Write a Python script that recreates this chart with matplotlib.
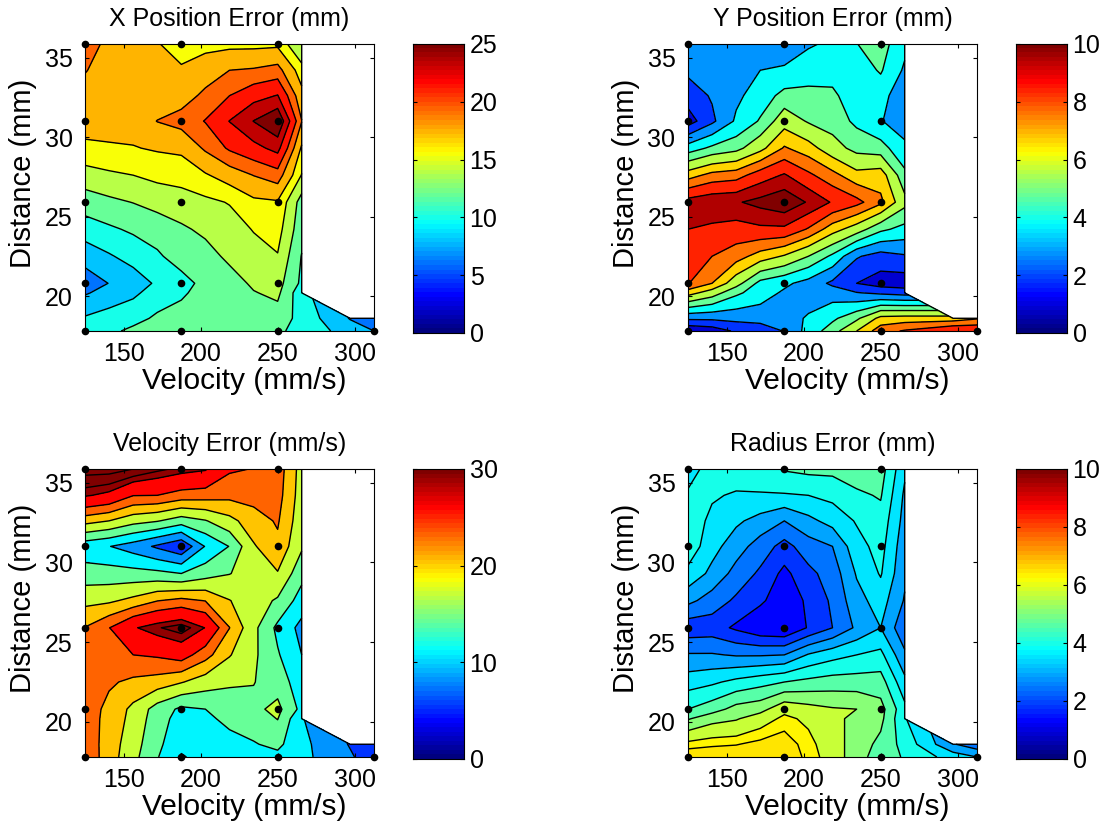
import matplotlib
matplotlib.use('Agg')
import matplotlib.pyplot as plt
from matplotlib.colors import LinearSegmentedColormap
import numpy as np

plt.rcParams['font.family'] = ['Liberation Sans', 'DejaVu Sans']

nan = float('nan')

# mesh the error surfaces were contoured on
velocity_cols = [125, 140.6, 156.25, 171.9, 187.5, 203.1, 218.75, 234.4, 250, 265.6, 296.9, 312.5]
distance_rows = [35.85, 34.2, 32.6, 31.0, 29.3, 27.6, 25.9, 24.2, 22.5, 20.8, 20.2, 18.6, 17.8]

# measured points
point_v = [125, 187, 250]
point_d = [35.85, 31.0, 25.9, 20.8, 17.8]

# each list is one velocity column, top row first
x_err = [
    [20.2, 19.4, 18.6, 17.9, 17.0, 14.8, 12.9, 10.9, 8.9, 7.0, 7.9, 10.2, 11.3],
    [18.8, 18.5, 18.2, 18.0, 17.1, 15.3, 13.4, 11.6, 9.8, 8.15, 8.8, 10.8, 11.5],
    [18.3, 18.2, 18.1, 18.1, 17.2, 15.6, 13.85, 12.2, 10.7, 9.0, 9.6, 11.3, 12.3],
    [17.4, 17.9, 18.1, 19.35, 17.5, 16.0, 14.6, 12.5, 11.7, 10.3, 10.9, 12.2, 12.7],
    [16.6, 17.5, 18.5, 20.0, 17.7, 16.2, 14.9, 13.5, 12.5, 11.4, 11.7, 12.4, 12.6],
    [16.7, 18.4, 19.7, 21.3, 19.6, 17.1, 15.2, 14.2, 13.1, 12.3, 12.4, 12.7, 12.6],
    [16.8, 19.3, 21.2, 23.45, 21.5, 18.2, 15.7, 14.8, 14.2, 13.0, 13.0, 12.9, 12.8],
    [16.8, 19.5, 22.6, 25.55, 22.7, 19.35, 16.9, 15.7, 14.9, 14.1, 13.7, 13.0, 12.6],
    [16.9, 20.0, 23.5, 27.5, 24.1, 20.3, 17.1, 16.3, 15.5, 14.5, 14.2, 13.0, 12.1],
    [13.7, 16.3, 17.9, 19.35, 17.0, 15.5, 13.0, 12.6, 11.8, 11.5, 10.6, 11.2, 11.5],
    [nan, nan, nan, nan, nan, nan, nan, nan, nan, nan, nan, 8.0, 9.0],
    [nan, nan, nan, nan, nan, nan, nan, nan, nan, nan, nan, 6.8, 8.1],
]

y_err = [
    [3.5, 3.0, 2.3, 1.4, 4.2, 7.1, 9.8, 9.4, 8.9, 8.45, 7.0, 3.0, 1.0],
    [3.4, 3.1, 2.9, 2.6, 4.9, 7.8, 10.1, 9.2, 8.4, 7.5, 6.1, 3.0, 1.3],
    [3.3, 3.2, 3.55, 3.9, 5.3, 8.0, 10.2, 9.0, 7.9, 6.0, 4.9, 3.1, 2.0],
    [3.2, 3.75, 4.2, 4.8, 6.3, 8.9, 10.6, 9.2, 7.1, 4.4, 4.2, 3.2, 2.2],
    [3.1, 3.9, 5.0, 6.2, 7.6, 9.5, 11.0, 9.2, 6.5, 3.95, 3.6, 3.2, 2.85],
    [3.65, 4.2, 5.0, 5.5, 7.0, 8.6, 10.2, 8.3, 5.6, 3.4, 3.1, 3.9, 4.1],
    [3.9, 4.3, 4.9, 5.2, 6.0, 7.8, 9.3, 7.0, 4.5, 2.6, 3.3, 4.5, 5.2],
    [4.68, 4.2, 4.1, 4.5, 5.3, 6.9, 8.7, 6.1, 2.9, 1.85, 2.85, 5.4, 6.6],
    [5.1, 4.8, 4.15, 3.8, 5.1, 7.1, 7.7, 4.9, 2.4, 1.4, 2.6, 6.9, 8.0],
    [4.0, 3.6, 3.0, 3.3, 3.95, 4.95, 5.9, 4.4, 2.7, 1.3, 2.4, 7.0, 8.5],
    [nan, nan, nan, nan, nan, nan, nan, nan, nan, nan, nan, 7.0, 9.35],
    [nan, nan, nan, nan, nan, nan, nan, nan, nan, nan, nan, 7.4, 9.3],
]

vel_err = [
    [34, 29.8, 21.3, 12.3, 15.5, 19.4, 23.1, 24, 24.4, 24.6, 24.6, 24.8, 25],
    [34, 28.8, 20.2, 11.3, 15.5, 19.7, 25.7, 24.6, 23.4, 22.2, 22, 21.7, 21.6],
    [33, 25.9, 18.3, 9.8, 15.3, 21.0, 29.2, 25.8, 22.4, 19.5, 19.3, 18.5, 18.1],
    [31.5, 25.8, 17.4, 7.7, 15, 22.9, 30.8, 26.2, 21.8, 15.9, 15.5, 14.9, 14.4],
    [30.5, 24.6, 15.7, 5.6, 14.2, 23.8, 32, 27.3, 20.4, 13.6, 13.0, 12.0, 10.9],
    [29.8, 24.3, 17, 11.4, 15.9, 22.9, 29.4, 24.1, 18.7, 14.2, 13.7, 12.5, 12.3],
    [26.2, 23.8, 19.3, 14.3, 17.1, 20.3, 23.05, 20.4, 17.7, 15.3, 14.8, 13.4, 13.0],
    [25.7, 24, 21.8, 19.9, 18.5, 18.6, 18, 17.8, 17.3, 16.5, 15.6, 14, 13.4],
    [24.5, 24.1, 23.3, 22.4, 20, 16.8, 13.5, 14.5, 15.9, 18, 17.3, 14.9, 13.4],
    [19, 18.8, 18.4, 17.6, 15.2, 12.8, 10.3, 11.2, 12.4, 13.3, 11.4, 12, 12],
    [nan, nan, nan, nan, nan, nan, nan, nan, nan, nan, nan, 8.0, 8.6],
    [nan, nan, nan, nan, nan, nan, nan, nan, nan, nan, nan, 5.8, 6.5],
]

rad_err = [
    [3.9, 4.1, 4.3, 4.4, 3.9, 3.1, 2.05, 3.0, 3.8, 4.6, 5.1, 6.39, 6.83],
    [4.2, 4.1, 3.95, 3.7, 3.35, 2.7, 2.1, 3.0, 3.95, 4.9, 5.5, 6.5, 6.77],
    [4.3, 4.0, 3.6, 3.2, 2.75, 2.3, 1.75, 2.9, 4.2, 5.35, 5.65, 6.53, 6.83],
    [4.4, 4.0, 3.3, 2.7, 2.3, 1.95, 1.4, 2.9, 4.4, 5.5, 6.0, 6.66, 6.88],
    [4.65, 4.0, 2.95, 2.2, 1.7, 1.5, 1.3, 2.95, 4.6, 6.1, 6.36, 6.75, 6.77],
    [4.75, 4.05, 3.35, 2.7, 2.25, 1.95, 1.9, 3.55, 4.75, 5.9, 6.15, 6.39, 6.47],
    [4.75, 4.2, 3.7, 2.95, 2.65, 2.5, 2.4, 3.85, 4.85, 5.75, 5.9, 5.95, 6.0],
    [4.9, 4.5, 4.1, 3.85, 3.55, 3.3, 3.05, 4.05, 4.85, 5.7, 5.5, 5.45, 5.4],
    [4.85, 4.65, 4.4, 4.25, 4.1, 3.75, 3.5, 4.2, 4.85, 5.35, 5.3, 5.0, 4.85],
    [3.6, 3.4, 3.3, 3.15, 3.05, 2.9, 2.55, 3.05, 3.65, 4.2, 4.1, 4.4, 4.55],
    [nan, nan, nan, nan, nan, nan, nan, nan, nan, nan, nan, 3.0, 3.8],
    [nan, nan, nan, nan, nan, nan, nan, nan, nan, nan, nan, 2.6, 3.5],
]

x_levels = [6.2, 8.1, 10, 11.9, 13.8, 15.6, 17.3, 19.3, 21.2, 23.4, 25.5]
y_levels = [0.9, 1.85, 2.8, 3.75, 4.7, 5.6, 6.6, 7.5, 8.4, 9.4, 10.3]
vel_levels = [5.2, 8.2, 11.2, 14.2, 17.2, 20.2, 23, 25.8, 29.5, 31, 33]
rad_levels = [1.3, 1.85, 2.4, 2.95, 3.5, 4.05, 4.6, 5.15, 5.7, 6.25, 6.55]

W, H = 1104, 825

# the 64 step jet of the original program, a bit different from matplotlib's
old_jet = LinearSegmentedColormap('old_jet', {
    'red': [(0, 0, 0), (0.375, 0, 0), (0.625, 1, 1), (0.875, 1, 1), (1, 0.5, 0.5)],
    'green': [(0, 0, 0), (0.125, 0, 0), (0.375, 1, 1), (0.625, 1, 1), (0.875, 0, 0), (1, 0, 0)],
    'blue': [(0, 0.5, 0.5), (0.125, 1, 1), (0.375, 1, 1), (0.625, 0, 0), (1, 0, 0)],
}, N=64)


def px_rect(left, top, right, bottom):
    return [left / W, 1 - bottom / H, (right - left) / W, (bottom - top) / H]


def plot_panel(fig, left, top, bottom, z, levels, vmax, cticks, title):
    ax = fig.add_axes(px_rect(left, top, left + 289, bottom))
    z = np.array(z, dtype=float).T
    X, Y = np.meshgrid(velocity_cols, distance_rows)
    zm = np.ma.masked_invalid(z)
    fill_levels = list(levels) + [1000]
    colors = [old_jet(min(l / vmax, 1.0)) for l in levels]
    # everything under the lowest contour keeps the first band colour
    ax.contourf(X, Y, zm, levels=[-1000] + fill_levels,
                colors=[colors[0]] + colors, corner_mask=True)
    ax.contour(X, Y, zm, levels=levels, colors='k', linewidths=1.0, corner_mask=True)

    # edge of the region that has data
    ax.plot([velocity_cols[9], velocity_cols[9], velocity_cols[10], velocity_cols[11]],
            [distance_rows[0], distance_rows[10], distance_rows[11], distance_rows[11]],
            color='k', lw=1.0)

    for v in point_v:
        ax.plot([v] * len(point_d), point_d, 'o', color='k', ms=5.5, mew=0, clip_on=False, zorder=5)
    ax.plot([312.5], [17.8], 'o', color='k', ms=5.5, mew=0, clip_on=False, zorder=5)

    ax.set_xlim(125, 312.5)
    ax.set_ylim(17.8, 35.85)
    ax.set_xticks([150, 200, 250, 300])
    ax.set_yticks([20, 25, 30, 35])
    ax.tick_params(direction='in', top=True, right=True, length=3, width=0.8, labelsize=18)
    ax.tick_params(axis='x', pad=8)
    ax.tick_params(axis='y', pad=9)
    ax.set_xlabel('Velocity (mm/s)', fontsize=21.5, va='top')
    ax.xaxis.set_label_coords(0.552, -0.125)
    ax.set_ylabel('Distance (mm)', fontsize=21)
    ax.yaxis.set_label_coords(-0.165, 0.55)
    ax.set_title(title, fontsize=18, pad=13)

    cax = fig.add_axes(px_rect(left + 328, top, left + 379, bottom + 2))
    ramp = np.linspace(0, 1, 64)[::-1].reshape(-1, 1)
    cax.imshow(ramp, cmap=old_jet, aspect='auto', extent=[0, 1, 0, vmax], vmin=0, vmax=1)
    cax.set_xticks([])
    cax.set_yticks(cticks)
    cax.yaxis.tick_right()
    cax.tick_params(direction='in', left=True, right=True, length=3, width=0.8, labelsize=18, pad=4)


def main():
    fig = plt.figure(figsize=(W / 100, H / 100), dpi=100)
    plot_panel(fig, 85, 44, 331, x_err, x_levels, 25, [0, 5, 10, 15, 20, 25], 'X Position Error (mm)')
    plot_panel(fig, 688, 44, 331, y_err, y_levels, 10, [0, 2, 4, 6, 8, 10], 'Y Position Error (mm)')
    plot_panel(fig, 85, 469, 757, vel_err, vel_levels, 30, [0, 10, 20, 30], 'Velocity Error (mm/s)')
    plot_panel(fig, 688, 469, 757, rad_err, rad_levels, 10, [0, 2, 4, 6, 8, 10], 'Radius Error (mm)')
    fig.savefig('out.png', dpi=100)


if __name__ == "__main__":
    main()
